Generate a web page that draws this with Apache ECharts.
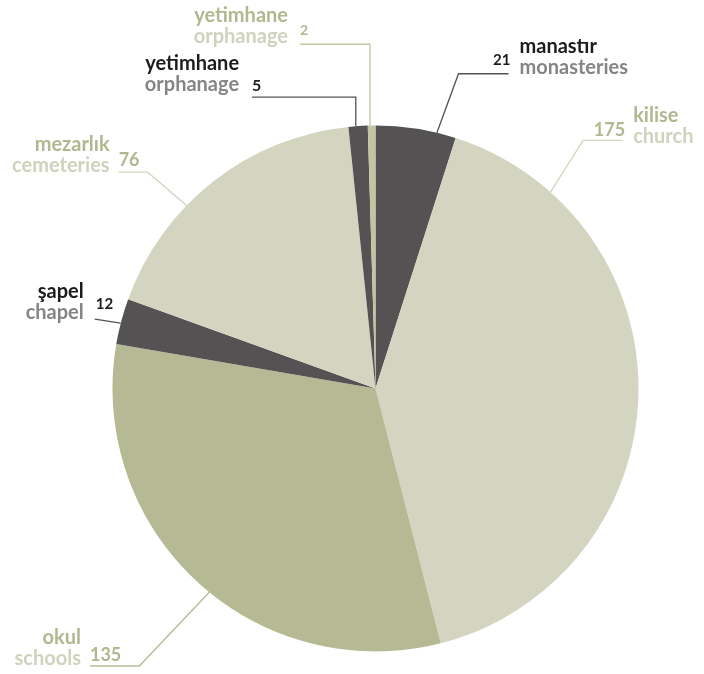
<!DOCTYPE html>
<html><head><meta charset="utf-8">
<script src="https://cdn.jsdelivr.net/npm/echarts@6/dist/echarts.min.js"></script>
<style>html,body{margin:0;padding:0;background:#fff}#c{width:704px;height:674px}</style>
</head><body><div id="c"></div>
<script>
// ---- data ----
const trNames = ['manastır', 'kilise', 'okul', 'şapel', 'mezarlık', 'yetimhane', 'yetimhane'];
const enNames = ['monasteries', 'church', 'schools', 'chapel', 'cemeteries', 'orphanage', 'orphanage'];
const values = [21, 175, 135, 12, 76, 5, 2];

// ---- styles ----
const sliceColors = ['#555254', '#d3d5c0', '#b6ba94', '#555254', '#d3d5c0', '#555254', '#c2c5a2'];
const tone = ['dark', 'light', 'light', 'dark', 'light', 'dark', 'light'];
const lineColors = ['#555254', '#d3d5c0', '#b6ba94', '#555254', '#d3d5c0', '#555254', '#c2c5a2'];
const valueSizes = [15, 18, 18, 15, 18, 16, 14];
const FONT = 'Lato';
const NAME_SIZE = 20, NAME_LH = 21;
const CX = 375.5, CY = 388.5, R = 263;
// label-line geometry: anchor angle on rim (deg, clockwise from top), elbow offset, horizontal run,
// names offset (nx, ny baseline), value offset (vx, vy baseline)
const geom = [
  {a: 13.5,  ex: 21.6, ey: -59,   h: 50,    nx: 11,  ny: 1.7, vx: 2, vy: -8},
  {a: 41.7,  ex: 32.7, ey: -51.7, h: 39,    nx: 11,  ny: 4,   vx: 3, vy: -3},
  {a: 219.2, ex: -70,  ey: 73.7,  h: -49.3, nx: -9,  ny: 0,   vx: 0, vy: -4},
  {a: 284.4, ex: -26,  ey: -4,    h: 0,     nx: -11, ny: 1,   vx: 1, vy: -9},
  {a: 314.1, ex: -39,  ey: -33.3, h: -29,   nx: -9,  ny: 0.6, vx: 0, vy: -4.7},
  {a: 355.7, ex: 0,    ey: -29.2, h: -103.7,nx: -13, ny: -4.7,vx: 0, vy: -5},
  {a: 358.8, ex: 0,    ey: -81.3, h: -70,   nx: -12, ny: 0,   vx: 0, vy: -8}
];

function linePts(i) {
  const g = geom[i];
  const a = g.a * Math.PI / 180;
  const x0 = CX + R * Math.sin(a), y0 = CY - R * Math.cos(a);
  const x1 = x0 + g.ex, y1 = y0 + g.ey;
  return [[x0, y0], [x1, y1], [x1 + g.h, y1]];
}

const chart = echarts.init(document.getElementById('c'), null, {renderer: 'canvas'});
chart.setOption({
  animation: false,
  backgroundColor: '#ffffff',
  series: [
    {
      type: 'pie', center: [CX, CY], radius: R, startAngle: 90, clockwise: true,
      avoidLabelOverlap: false, silent: true,
      itemStyle: {borderWidth: 0},
      data: values.map((v, i) => ({
        value: v, name: enNames[i],
        itemStyle: {color: sliceColors[i]},
        label: {color: tone[i] === 'dark' ? '#1c1c1c' : '#b3b78f', fontSize: valueSizes[i], lineHeight: valueSizes[i]},
        labelLine: {lineStyle: {color: lineColors[i]}}
      })),
      label: {show: true, formatter: '{c}', fontFamily: FONT, fontWeight: 'bold'},
      labelLine: {show: true, smooth: false, lineStyle: {width: 1.3}},
      labelLayout: function (p) {
        const i = p.dataIndex, g = geom[i], pts = linePts(i), e = pts[2], f = valueSizes[i];
        return {
          x: e[0] + g.vx, y: e[1] + g.vy - 0.385 * f,
          align: g.nx > 0 ? 'right' : 'left', verticalAlign: 'middle',
          labelLinePoints: pts
        };
      }
    },
    {
      type: 'pie', center: [CX, CY], radius: R, startAngle: 90, clockwise: true,
      avoidLabelOverlap: false, silent: true,
      itemStyle: {color: 'rgba(0,0,0,0)', borderWidth: 0},
      data: values.map((v, i) => ({
        value: v, name: enNames[i],
        label: {
          formatter: '{t|' + trNames[i] + '}\n{e|' + enNames[i] + '}',
          rich: {
            t: {fontFamily: FONT, fontWeight: 'bold', fontSize: NAME_SIZE, lineHeight: NAME_LH,
                color: tone[i] === 'dark' ? '#1c1c1c' : '#b3b78f'},
            e: {fontFamily: FONT, fontWeight: 'bold', fontSize: NAME_SIZE, lineHeight: NAME_LH,
                color: tone[i] === 'dark' ? '#858585' : '#d0d2bb'}
          }
        }
      })),
      label: {show: true},
      labelLine: {show: false},
      labelLayout: function (p) {
        const i = p.dataIndex, g = geom[i], e = linePts(i)[2];
        return {
          x: e[0] + g.nx, y: e[1] + g.ny - (NAME_LH / 2 + 0.385 * NAME_SIZE),
          align: g.nx > 0 ? 'left' : 'right', verticalAlign: 'middle'
        };
      }
    }
  ]
});
</script>
</body></html>
